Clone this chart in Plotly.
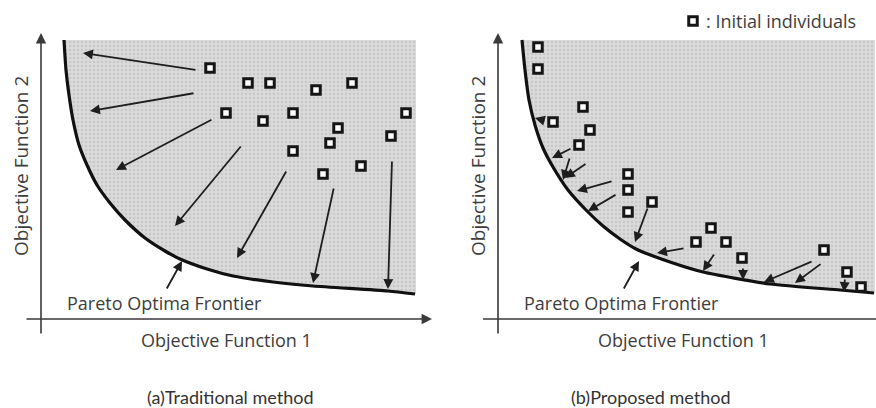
import plotly.graph_objects as go

# ---------------------------------------------------------------
# Objective-space data for the two panels (units: f1 right, f2 up)
# ---------------------------------------------------------------

# Pareto optimal frontier, traditional-method panel
front_a_f1 = [2.3, 2.5, 2.8, 3.2, 3.8, 4.6, 5.6, 6.9, 8.4, 10.4, 12.4, 13.9, 16.6, 19.2, 23.2, 27.2, 34.7, 37.4]
front_a_f2 = [27.9, 24.9, 22.4, 19.9, 17.4, 15.4, 13.4, 11.6, 9.9, 8.1, 6.8, 6.0, 5.0, 4.3, 3.7, 3.3, 2.8, 2.5]

# Pareto optimal frontier, proposed-method panel
front_b_f1 = [2.4, 2.7, 3.1, 3.7, 4.5, 5.5, 7.0, 8.9, 10.5, 12.2, 13.8, 17.2, 20.5, 27.2, 34.2, 37.6]
front_b_f2 = [27.9, 24.9, 21.9, 19.4, 17.1, 15.2, 12.9, 10.8, 9.3, 8.0, 7.0, 5.7, 4.7, 3.5, 2.9, 2.6]

# Initial individuals
init_a_f1 = [16.9, 20.7, 22.9, 27.5, 31.1, 18.5, 22.2, 25.2, 29.7, 36.5, 35.0, 28.9, 25.2, 32.0, 28.2]
init_a_f2 = [25.1, 23.6, 23.6, 22.9, 23.6, 20.6, 19.8, 20.6, 19.1, 20.6, 18.3, 17.6, 16.8, 15.3, 14.5]

init_b_f1 = [4.0, 4.0, 8.5, 5.5, 9.2, 8.1, 13.0, 13.0, 13.0, 15.4, 21.3, 19.8, 22.8, 24.4, 32.6, 34.9, 36.3]
init_b_f2 = [27.2, 25.0, 21.2, 19.7, 18.9, 17.4, 14.5, 12.9, 10.7, 11.7, 9.1, 7.7, 7.7, 6.1, 6.9, 4.7, 3.2]

# Search moves: tail (start) -> head (end)
move_a_f1_from = [15.6, 15.4, 17.2, 20.1, 24.6, 29.3, 35.1]
move_a_f2_from = [24.9, 22.6, 20.0, 17.4, 14.9, 13.2, 15.9]
move_a_f1_to = [4.2, 4.9, 7.5, 13.4, 19.6, 27.2, 34.7]
move_a_f2_to = [26.6, 20.8, 14.9, 9.3, 6.1, 3.6, 3.0]

move_b_f1_from = [4.8, 7.4, 7.2, 8.9, 11.5, 11.9, 15.0, 18.7, 21.7, 24.5, 31.5, 32.4, 34.7]
move_b_f2_from = [19.8, 17.1, 16.2, 15.6, 13.8, 12.5, 11.2, 7.1, 6.6, 5.2, 5.8, 5.6, 4.1]
move_b_f1_to = [3.7, 5.4, 6.5, 6.7, 7.9, 9.0, 13.7, 15.9, 20.5, 24.5, 26.6, 29.7, 34.6]
move_b_f2_to = [20.1, 16.1, 13.9, 14.1, 12.8, 10.8, 7.7, 6.6, 4.8, 3.9, 3.7, 3.6, 2.7]

# Pointer from the frontier label to the curve
label_arrow_from = (12.5, 2.9)
label_arrow_to = (14.1, 5.8)

TEXT = "#3d3d3d"
AXIS = "#3a3a3a"
FONT = "Open Sans"

fig = go.Figure()
annotations = []


def panel(xa, ya, fr_x, fr_y, pts_x, pts_y, mv_fx, mv_fy, mv_tx, mv_ty, x_arrow):
    # outer boundary of the shaded region (top edge and right edge)
    right = fr_x[-1] + 0.1
    fig.add_trace(go.Scatter(
        x=[fr_x[0], right, right], y=[fr_y[0], fr_y[0], fr_y[-1]],
        xaxis=xa, yaxis=ya, mode="lines", line=dict(width=0),
        hoverinfo="skip", showlegend=False))
    # frontier curve, filling the dominated region up to that boundary
    fig.add_trace(go.Scatter(
        x=fr_x, y=fr_y, xaxis=xa, yaxis=ya, mode="lines",
        line=dict(color="#111111", width=3.2, shape="spline", smoothing=0.6),
        fill="tonexty", fillcolor="#d6d6d6",
        fillpattern=dict(shape=".", bgcolor="#dadada", fgcolor="#b5b5b5",
                         size=4, solidity=0.35),
        hoverinfo="skip", showlegend=False))
    # individuals
    fig.add_trace(go.Scatter(
        x=pts_x, y=pts_y, xaxis=xa, yaxis=ya, mode="markers",
        marker=dict(symbol="square", size=8.5, color="white",
                    line=dict(color="#151515", width=3)),
        hoverinfo="skip", showlegend=False))
    # axis lines
    if not x_arrow:
        fig.add_trace(go.Scatter(
            x=[-1.5, 40], y=[0, 0], xaxis=xa, yaxis=ya, mode="lines",
            line=dict(color=AXIS, width=1.6), hoverinfo="skip", showlegend=False))
    ref_x = xa
    ref_y = ya
    # y axis with arrow
    annotations.append(dict(x=0, y=28.6, ax=0, ay=-1.6, xref=ref_x, yref=ref_y,
                            axref=ref_x, ayref=ref_y, showarrow=True, text="",
                            arrowhead=2, arrowsize=1.3, arrowwidth=1.6,
                            arrowcolor=AXIS, standoff=0, startstandoff=0))
    if x_arrow:
        annotations.append(dict(x=39.1, y=0, ax=-1.6, ay=0, xref=ref_x, yref=ref_y,
                                axref=ref_x, ayref=ref_y, showarrow=True, text="",
                                arrowhead=2, arrowsize=1.3, arrowwidth=1.6,
                                arrowcolor=AXIS, standoff=0, startstandoff=0))
    # search moves
    for fx, fy, tx, ty in zip(mv_fx, mv_fy, mv_tx, mv_ty):
        annotations.append(dict(x=tx, y=ty, ax=fx, ay=fy, xref=ref_x, yref=ref_y,
                                axref=ref_x, ayref=ref_y, showarrow=True, text="",
                                arrowhead=2, arrowsize=1.1, arrowwidth=1.8,
                                arrowcolor="#1e1e1e", standoff=0))
    # label pointer
    annotations.append(dict(x=label_arrow_to[0], y=label_arrow_to[1],
                            ax=label_arrow_from[0], ay=label_arrow_from[1],
                            xref=ref_x, yref=ref_y, axref=ref_x, ayref=ref_y,
                            showarrow=True, text="", arrowhead=2, arrowsize=1.1,
                            arrowwidth=1.8, arrowcolor="#1e1e1e", standoff=0))
    # texts
    annotations.append(dict(x=12.3, y=1.6, xref=ref_x, yref=ref_y, showarrow=False,
                            xanchor="center", yanchor="middle",
                            text="Pareto Optima Frontier",
                            font=dict(family=FONT, size=18, color=TEXT)))
    annotations.append(dict(x=18.5, y=-2.1, xref=ref_x, yref=ref_y, showarrow=False,
                            xanchor="center", yanchor="middle",
                            text="Objective Function 1",
                            font=dict(family=FONT, size=18, color=TEXT)))
    annotations.append(dict(x=-2.0, y=15.3, xref=ref_x, yref=ref_y, showarrow=False,
                            xanchor="center", yanchor="middle",
                            text="Objective Function 2", textangle=-90,
                            font=dict(family=FONT, size=19, color=TEXT)))


panel("x", "y", front_a_f1, front_a_f2, init_a_f1, init_a_f2,
      move_a_f1_from, move_a_f2_from, move_a_f1_to, move_a_f2_to, True)
panel("x2", "y2", front_b_f1, front_b_f2, init_b_f1, init_b_f2,
      move_b_f1_from, move_b_f2_from, move_b_f1_to, move_b_f2_to, False)

# legend key for the individuals
fig.add_trace(go.Scatter(
    x=[19.5], y=[29.8], xaxis="x2", yaxis="y2", mode="markers",
    marker=dict(symbol="square", size=8.5, color="white",
                line=dict(color="#151515", width=3)),
    hoverinfo="skip", showlegend=False, cliponaxis=False))
annotations.append(dict(x=20.6, y=29.8, xref="x2", yref="y2", showarrow=False,
                        xanchor="left", yanchor="middle", text=": Initial individuals",
                        font=dict(family=FONT, size=18, color=TEXT)))

# panel captions
annotations.append(dict(x=230 / 876, y=11 / 408, xref="paper", yref="paper",
                        xanchor="center", yanchor="middle",
                        showarrow=False, text="(a)Traditional method",
                        font=dict(family="Lato", size=18, color="#333333")))
annotations.append(dict(x=651 / 876, y=11 / 408, xref="paper", yref="paper",
                        xanchor="center", yanchor="middle",
                        showarrow=False, text="(b)Proposed method",
                        font=dict(family="Lato", size=18, color="#333333")))

hidden = dict(visible=False, showgrid=False, zeroline=False, fixedrange=True)
fig.update_layout(
    width=876, height=408,
    margin=dict(l=0, r=0, t=0, b=0),
    paper_bgcolor="white", plot_bgcolor="rgba(0,0,0,0)",
    xaxis=dict(domain=[0, 0.5], range=[-4.1, 39.7], **hidden),
    yaxis=dict(domain=[0, 1], range=[-8.9, 31.9], anchor="x", **hidden),
    xaxis2=dict(domain=[0.5, 1], range=[-6.0, 37.8], anchor="y2", **hidden),
    yaxis2=dict(domain=[0, 1], range=[-8.9, 31.9], anchor="x2", **hidden),
    annotations=annotations,
    showlegend=False,
)

fig.write_html("out.html")
